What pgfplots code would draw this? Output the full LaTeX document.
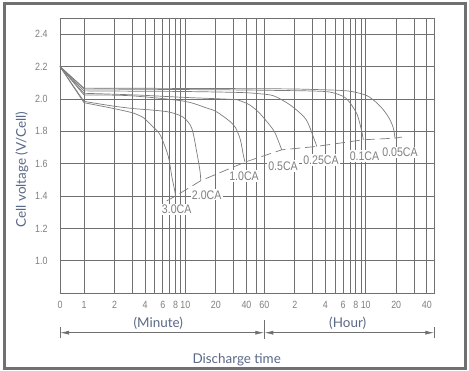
\documentclass[border=0pt]{standalone}
\usepackage{fontspec}
\setmainfont{Lato}
\newfontfamily\cadfont[FakeStretch=0.85]{Liberation Sans}
\usepackage{pgfplots}
\pgfplotsset{compat=1.18}
\usetikzlibrary{arrows.meta}
\definecolor{gridc}{RGB}{112,112,112}
\definecolor{curvec}{RGB}{125,125,125}
\definecolor{tickc}{RGB}{128,128,128}
\definecolor{labc}{RGB}{90,105,135}
\definecolor{framec}{RGB}{112,112,112}
\begin{document}
\begin{tikzpicture}
\fill[white] (0bp,0bp) rectangle (469bp,371bp);
\draw[framec, line width=3bp] (4bp,2.5bp) rectangle (465bp,367.5bp);
\begin{axis}[
  at={(60bp,77.7bp)}, anchor=south west, scale only axis,
  width=374.3bp, height=275.3bp,
  xmin=-0.2367, xmax=3.4546, ymin=0.8, ymax=2.5,
  axis line style={gridc, line width=0.9bp},
  major grid style={gridc, line width=0.9bp},
  xmajorgrids, ymajorgrids,
  major tick length=0pt,
  /pgf/number format/assume math mode=true,
  ticklabel style={font=\cadfont\fontsize{10.5}{12}\selectfont, text=tickc},
  xtick={-0.2367,0,0.30103,0.47712,0.60206,0.69897,0.77815,0.84510,0.90309,0.95424,1,1.30103,1.47712,1.60206,1.69897,1.77815,2.07918,2.25527,2.38021,2.47712,2.55630,2.62325,2.68124,2.73239,2.77815,3.07918,3.25527,3.38021},
  xticklabels={0,1,2,,4,,6,,8,,10,20,,40,,60,2,,4,,6,,8,,10,20,,40},
  xticklabel style={yshift=-4bp},
  ytick={1.0,1.2,1.4,1.6,1.8,2.0,2.2,2.4},
  yticklabel style={/pgf/number format/fixed, /pgf/number format/fixed zerofill, /pgf/number format/precision=1, xshift=-9bp},
  clip=false,
]
% 0.05CA
\addplot[curvec, line width=0.7bp] coordinates {(-0.2367,2.2) (0,2.067)};
\addplot[curvec, line width=0.7bp, smooth] coordinates {(0,2.067) (0.5,2.066) (1.0,2.065) (1.5,2.064) (2.03,2.062) (2.3,2.058) (2.525,2.053) (2.65,2.045) (2.788,2.021) (2.88,1.98) (2.952,1.933) (3.01,1.88) (3.05,1.822) (3.067,1.758)};
% 0.1CA
\addplot[curvec, line width=0.7bp] coordinates {(-0.2367,2.2) (0,2.062)};
\addplot[curvec, line width=0.7bp, smooth] coordinates {(0,2.062) (0.5,2.06) (1.0,2.058) (1.5,2.056) (1.867,2.053) (2.2,2.05) (2.394,2.045) (2.5,2.03) (2.591,2.0) (2.689,1.911) (2.739,1.80) (2.754,1.748)};
% 0.25CA
\addplot[curvec, line width=0.7bp] coordinates {(-0.2367,2.2) (0,2.05)};
\addplot[curvec, line width=0.7bp, smooth] coordinates {(0,2.05) (0.5,2.048) (1.0,2.046) (1.538,2.04) (1.736,2.032) (1.867,2.02) (1.999,1.977) (2.098,1.931) (2.196,1.867) (2.278,1.738) (2.295,1.707)};
% 0.5CA
\addplot[curvec, line width=0.7bp] coordinates {(-0.2367,2.2) (0,2.035)};
\addplot[curvec, line width=0.7bp, smooth] coordinates {(0,2.035) (0.5,2.025) (0.98,2.01) (1.469,1.997) (1.538,1.989) (1.637,1.962) (1.736,1.909) (1.867,1.809) (1.913,1.746) (1.95,1.686)};
% 1.0CA
\addplot[curvec, line width=0.7bp] coordinates {(-0.2367,2.2) (0,2.025)};
\addplot[curvec, line width=0.7bp, smooth] coordinates {(0,2.025) (0.454,2.02) (0.979,1.987) (1.21,1.944) (1.309,1.92) (1.472,1.842) (1.538,1.757) (1.571,1.654) (1.588,1.61)};
% 2.0CA
\addplot[curvec, line width=0.7bp] coordinates {(-0.2367,2.2) (0,1.985)};
\addplot[curvec, line width=0.7bp, smooth] coordinates {(0,1.985) (0.3,1.955) (0.5,1.94) (0.7,1.93) (0.848,1.918) (0.979,1.887) (1.062,1.82) (1.111,1.675) (1.144,1.555) (1.151,1.495)};
% 3.0CA
\addplot[curvec, line width=0.7bp] coordinates {(-0.2367,2.2) (0,1.977)};
\addplot[curvec, line width=0.7bp, smooth] coordinates {(0,1.977) (0.3,1.94) (0.486,1.913) (0.585,1.885) (0.618,1.867) (0.668,1.835) (0.75,1.779) (0.831,1.646) (0.865,1.525) (0.897,1.426) (0.9,1.40)};
% end-of-discharge line
\addplot[curvec, line width=0.7bp, dash pattern=on 10bp off 5bp] coordinates {(0.815,1.37) (0.9,1.40) (1.151,1.495) (1.588,1.61) (1.95,1.686) (2.295,1.707) (2.754,1.748) (3.067,1.758) (3.136,1.765)};
\begin{scope}[every node/.style={fill=white, inner sep=1.2bp, text=tickc, font=\cadfont\fontsize{12.5}{13}\selectfont}]
\node at (axis cs:0.914,1.319) {3.0CA};
\node at (axis cs:1.21,1.408) {2.0CA};
\node at (axis cs:1.578,1.524) {1.0CA};
\node at (axis cs:1.963,1.586) {0.5CA};
\node at (axis cs:2.337,1.623) {0.25CA};
\node at (axis cs:2.766,1.648) {0.1CA};
\node at (axis cs:3.116,1.669) {0.05CA};
\end{scope}
\end{axis}
% time dimension arrows
\draw[gridc, line width=0.8bp] (60bp,32.7bp) -- (60bp,44.3bp);
\draw[gridc, line width=0.8bp] (264.3bp,32bp) -- (264.3bp,51bp);
\draw[gridc, line width=0.8bp] (434.3bp,32.7bp) -- (434.3bp,44.3bp);
\draw[gridc, line width=0.8bp, {Latex[length=9bp,width=4bp]}-{Latex[length=9bp,width=4bp]}] (60bp,38.3bp) -- (264.3bp,38.3bp);
\draw[gridc, line width=0.8bp, {Latex[length=9bp,width=4bp]}-{Latex[length=9bp,width=4bp]}] (264.3bp,38.3bp) -- (434.3bp,38.3bp);
\begin{scope}[every node/.style={text=labc, font=\fontsize{13.5}{15}\selectfont, inner sep=0pt}]
\node at (158.3bp,48bp) {(Minute)};
\node at (347.7bp,48bp) {(Hour)};
\node at (236.7bp,11bp) {Discharge time};
\node[rotate=90] at (22bp,201.5bp) {Cell voltage (V/Cell)};
\end{scope}
\end{tikzpicture}
\end{document}
